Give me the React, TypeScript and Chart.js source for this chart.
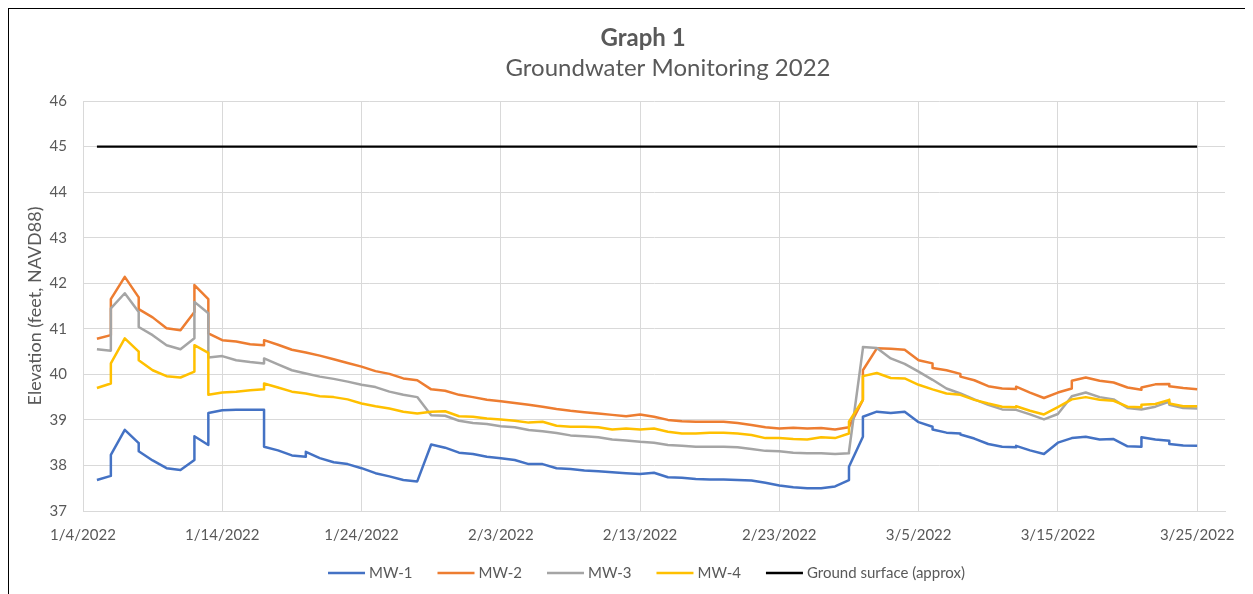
import React, { useEffect, useRef } from "react";
import { Chart, registerables } from "chart.js";

Chart.register(...registerables);

// ---- Data (x = days after 1/4/2022; repeated day = two readings on that date) ----
const DAYS = [
  1, 2, 2, 3, 4, 4, 5, 6, 7, 8, 8, 9, 9, 10,
  11, 12, 13, 13, 14, 15, 16, 16, 17, 18, 19, 20,
  21, 22, 23, 24, 25, 26, 27, 28, 29, 30,
  31, 32, 33, 34, 35, 36, 37, 38, 39, 40,
  41, 42, 43, 44, 45, 46, 47, 48, 49, 50,
  51, 52, 53, 54, 55, 55, 56, 56, 57, 58, 59, 60,
  61, 61, 62, 63, 63, 64, 65, 66, 67, 67, 68, 69, 70,
  71, 71, 72, 73, 74, 75, 76, 76, 77, 78, 78, 79, 80,
];

const MW1 = [
  37.68, 37.77, 38.23, 38.78, 38.49, 38.31, 38.11, 37.94, 37.90, 38.12, 38.64, 38.45, 39.15, 39.21,
  39.22, 39.22, 39.22, 38.41, 38.33, 38.22, 38.19, 38.30, 38.16, 38.07, 38.03, 37.94,
  37.83, 37.76, 37.68, 37.65, 38.46, 38.39, 38.28, 38.25, 38.19, 38.16,
  38.12, 38.03, 38.03, 37.94, 37.92, 37.89, 37.87, 37.85, 37.83, 37.81,
  37.84, 37.74, 37.73, 37.70, 37.69, 37.69, 37.68, 37.67, 37.62, 37.56,
  37.52, 37.50, 37.50, 37.54, 37.68, 37.97, 38.63, 39.07, 39.18, 39.15, 39.18, 38.95,
  38.85, 38.79, 38.72, 38.70, 38.68, 38.59, 38.47, 38.41, 38.40, 38.43, 38.33, 38.25, 38.50,
  38.60, 38.60, 38.63, 38.57, 38.58, 38.42, 38.41, 38.62, 38.57, 38.54, 38.47, 38.44, 38.43,
];

const MW2 = [
  40.78, 40.86, 41.65, 42.14, 41.69, 41.43, 41.25, 41.01, 40.97, 41.37, 41.96, 41.65, 40.90, 40.75,
  40.72, 40.66, 40.64, 40.75, 40.65, 40.54, 40.48, 40.48, 40.41, 40.33, 40.25, 40.17,
  40.07, 40.01, 39.91, 39.87, 39.67, 39.64, 39.55, 39.50, 39.44, 39.41,
  39.37, 39.33, 39.29, 39.24, 39.20, 39.17, 39.14, 39.11, 39.08, 39.12,
  39.07, 39.00, 38.97, 38.96, 38.96, 38.96, 38.93, 38.89, 38.84, 38.81,
  38.83, 38.81, 38.82, 38.79, 38.84, 38.84, 39.44, 40.09, 40.57, 40.56, 40.54, 40.31,
  40.24, 40.14, 40.09, 40.01, 39.95, 39.87, 39.74, 39.69, 39.68, 39.73, 39.60, 39.48, 39.60,
  39.69, 39.86, 39.93, 39.86, 39.82, 39.71, 39.66, 39.71, 39.78, 39.79, 39.74, 39.70, 39.67,
];

const MW3 = [
  40.55, 40.52, 41.45, 41.78, 41.37, 41.04, 40.86, 40.64, 40.55, 40.79, 41.59, 41.34, 40.37, 40.40,
  40.31, 40.27, 40.24, 40.35, 40.22, 40.09, 40.02, 40.02, 39.95, 39.90, 39.84, 39.77,
  39.72, 39.62, 39.55, 39.50, 39.10, 39.09, 38.98, 38.93, 38.91, 38.86,
  38.84, 38.78, 38.75, 38.71, 38.66, 38.64, 38.62, 38.57, 38.55, 38.52,
  38.50, 38.45, 38.43, 38.41, 38.41, 38.41, 38.40, 38.36, 38.32, 38.31,
  38.28, 38.27, 38.27, 38.25, 38.27, 38.30, 40.57, 40.60, 40.58, 40.35, 40.23, 40.06,
  39.88, 39.88, 39.69, 39.58, 39.58, 39.45, 39.33, 39.23, 39.22, 39.22, 39.12, 39.01, 39.13,
  39.52, 39.52, 39.60, 39.50, 39.45, 39.26, 39.23, 39.23, 39.29, 39.40, 39.33, 39.26, 39.25,
];

const MW4 = [
  39.70, 39.80, 40.24, 40.79, 40.50, 40.31, 40.09, 39.96, 39.93, 40.06, 40.64, 40.47, 39.55, 39.60,
  39.62, 39.65, 39.67, 39.80, 39.71, 39.62, 39.58, 39.58, 39.52, 39.50, 39.45, 39.36,
  39.30, 39.25, 39.18, 39.14, 39.18, 39.19, 39.08, 39.07, 39.03, 39.01,
  38.98, 38.94, 38.96, 38.87, 38.85, 38.85, 38.84, 38.79, 38.81, 38.79,
  38.81, 38.74, 38.70, 38.70, 38.72, 38.72, 38.70, 38.67, 38.60, 38.60,
  38.58, 38.57, 38.62, 38.60, 38.70, 38.96, 39.44, 39.96, 40.03, 39.92, 39.91, 39.77,
  39.67, 39.67, 39.58, 39.55, 39.55, 39.44, 39.36, 39.29, 39.28, 39.30, 39.20, 39.12, 39.28,
  39.45, 39.45, 39.50, 39.44, 39.42, 39.29, 39.28, 39.33, 39.35, 39.44, 39.36, 39.30, 39.30,
];

const GROUND_DAYS = [1, 80];
const GROUND = [45, 45];

const X_TICKS = [0, 10, 20, 30, 40, 50, 60, 70, 80];
const X_MIN = 0;
const X_MAX = 82;
const Y_MIN = 37;
const Y_MAX = 46;

const SERIES_LABELS = ["MW-1", "MW-2", "MW-3", "MW-4", "Ground surface (approx)"];
const SERIES_COLORS = ["#4472C4", "#ED7D31", "#A5A5A5", "#FFC000", "#000000"];

const TITLE = "Graph 1";
const SUBTITLE = "Groundwater Monitoring 2022";
const Y_TITLE = "Elevation (feet, NAVD88)";

const FONT = "Lato, 'Liberation Sans', sans-serif";
const TEXT = "#595959";
const GRID = "#D9D9D9";

function fmtDate(offset: number): string {
  const d = new Date(2022, 0, 4 + Math.round(offset));
  return `${d.getMonth() + 1}/${d.getDate()}/${d.getFullYear()}`;
}

const textPlugin = {
  id: "customTexts",
  afterDraw(chart: any) {
    const ctx = chart.ctx as CanvasRenderingContext2D;
    ctx.save();
    ctx.fillStyle = TEXT;
    ctx.textAlign = "center";
    ctx.textBaseline = "middle";
    ctx.font = `bold 24px ${FONT}`;
    ctx.fillText(TITLE, 634, 29);
    ctx.font = `24px ${FONT}`;
    ctx.fillText(SUBTITLE, 659, 59);

    ctx.save();
    ctx.translate(26, (chart.chartArea.top + chart.chartArea.bottom) / 2);
    ctx.rotate(-Math.PI / 2);
    ctx.font = `18px ${FONT}`;
    ctx.fillText(Y_TITLE, 0, 0);
    ctx.restore();

    // legend
    ctx.font = `15px ${FONT}`;
    const lineLen = 37;
    const gapText = 4;
    const gapItem = 25;
    const items = chart.data.datasets.map((ds: any) => ({
      label: ds.label as string,
      color: ds.borderColor as string,
      w: ctx.measureText(ds.label).width,
    }));
    const total =
      items.reduce((s: number, it: any) => s + lineLen + gapText + it.w, 0) +
      gapItem * (items.length - 1);
    let x = 637.5 - total / 2;
    const y = 564;
    ctx.textAlign = "left";
    for (const it of items) {
      ctx.strokeStyle = it.color;
      ctx.lineWidth = 2.5;
      ctx.beginPath();
      ctx.moveTo(x, y);
      ctx.lineTo(x + lineLen, y);
      ctx.stroke();
      ctx.fillStyle = TEXT;
      ctx.fillText(it.label, x + lineLen + gapText, y);
      x += lineLen + gapText + it.w + gapItem;
    }
    ctx.restore();
  },
};

export default function App() {
  const ref = useRef<HTMLCanvasElement | null>(null);

  useEffect(() => {
    if (!ref.current) return;
    const mk = (vals: number[]) => DAYS.map((d, i) => ({ x: d, y: vals[i] }));
    const seriesData = [mk(MW1), mk(MW2), mk(MW3), mk(MW4), GROUND_DAYS.map((d, i) => ({ x: d, y: GROUND[i] }))];
    const tickFont = { family: FONT, size: 15 };
    const chart = new Chart(ref.current, {
      type: "line",
      data: {
        datasets: seriesData.map((data, i) => ({
          label: SERIES_LABELS[i],
          data,
          borderColor: SERIES_COLORS[i],
          backgroundColor: SERIES_COLORS[i],
          borderWidth: i === 4 ? 2.25 : 2.5,
          pointRadius: 0,
          tension: 0,
          borderJoinStyle: "round" as const,
          fill: false,
          order: 5 - i,
        })),
      },
      options: {
        responsive: false,
        animation: false,
        devicePixelRatio: 1,
        layout: { padding: { left: 0, top: 92, right: 28, bottom: 43 } },
        plugins: {
          legend: { display: false },
          title: { display: false },
          tooltip: { enabled: false },
        },
        scales: {
          x: {
            type: "linear",
            min: X_MIN,
            max: X_MAX,
            afterBuildTicks: (s: any) => {
              s.ticks = X_TICKS.map((v) => ({ value: v }));
            },
            afterFit: (s: any) => {
              s.height = 40;
            },
            grid: { color: GRID, drawTicks: false, lineWidth: 1 },
            border: { color: GRID },
            ticks: {
              padding: 15,
              maxRotation: 0,
              autoSkip: false,
              font: tickFont,
              color: TEXT,
              callback: (v: any) => fmtDate(Number(v)),
            },
          },
          y: {
            min: Y_MIN,
            max: Y_MAX,
            afterFit: (s: any) => {
              s.width = 74;
            },
            grid: { color: GRID, drawTicks: false, lineWidth: 1 },
            border: { color: GRID },
            ticks: { stepSize: 1, padding: 16, font: tickFont, color: TEXT },
          },
        },
      },
      plugins: [textPlugin],
    });
    return () => chart.destroy();
  }, []);

  return (
    <div
      style={{
        marginLeft: -1,
        marginTop: -1,
        borderLeft: "2px solid #000",
        borderTop: "2px solid #000",
        width: 1244,
        height: 585,
        background: "#fff",
      }}
    >
      <canvas ref={ref} width={1244} height={585} style={{ display: "block" }} />
    </div>
  );
}
